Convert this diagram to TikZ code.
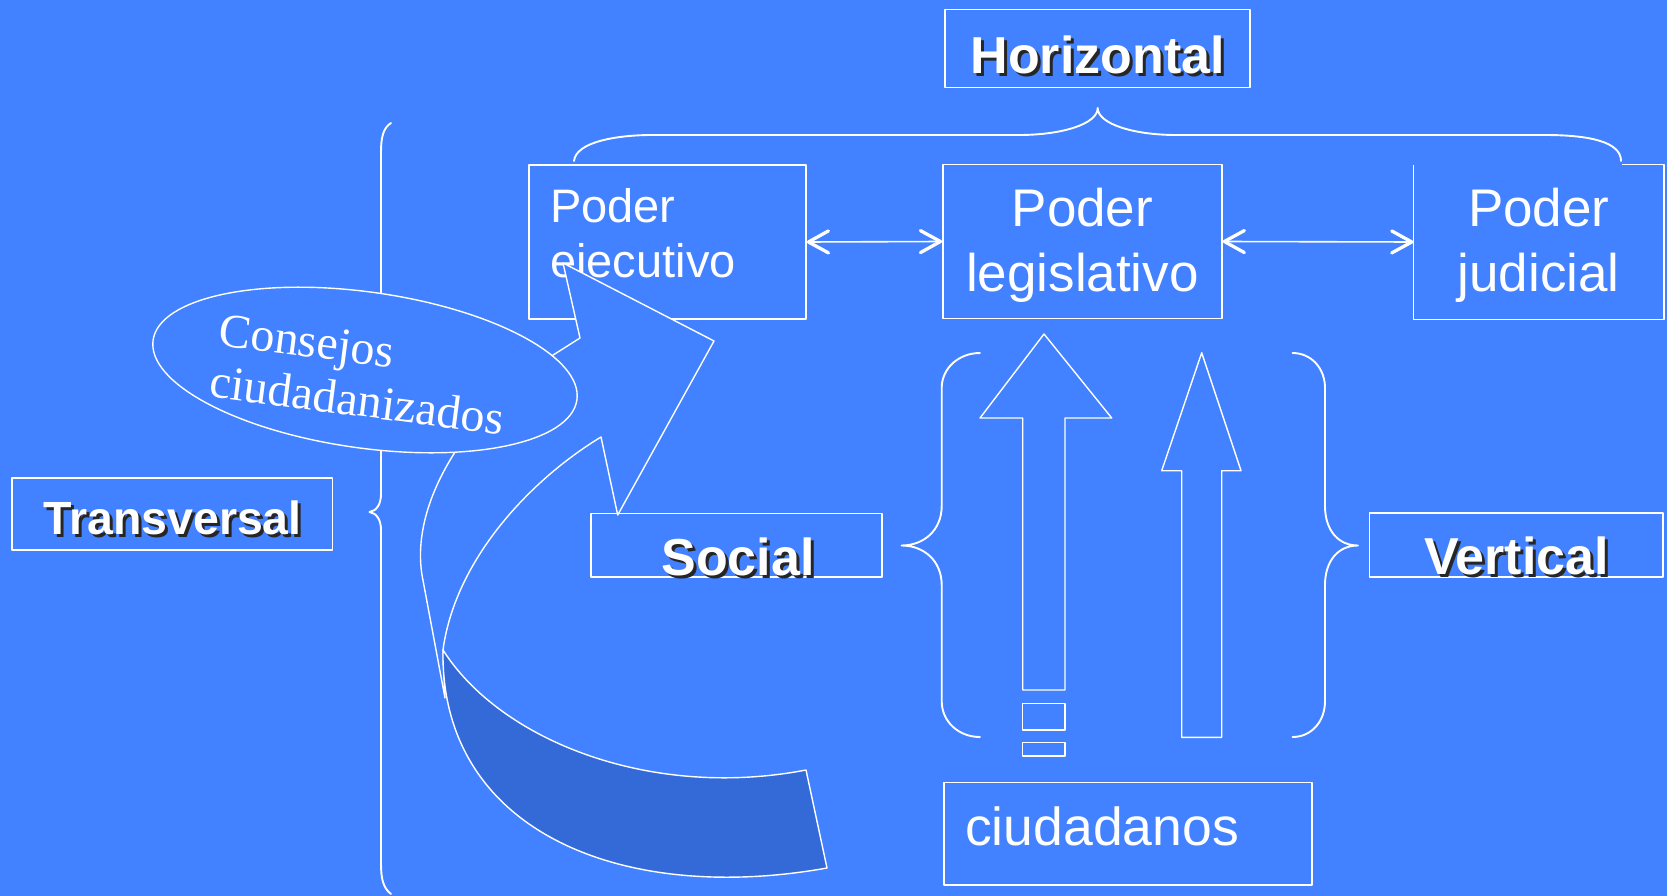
\documentclass[tikz,border=0pt]{standalone}
\usepackage{fontspec}
\setmainfont{Liberation Sans}
\newfontfamily\timesfont{Liberation Serif}
\usepackage{tikz}
\usetikzlibrary{arrows.meta,shapes.geometric,positioning}

\definecolor{slideblue}{RGB}{66,129,255}
\definecolor{ribbonblue}{RGB}{52,106,216}
\newcommand{\shadowed}[1]{\makebox[0pt][l]{\hspace{3pt}\raisebox{-3pt}{\color{black!85}#1}}#1}

\begin{document}
\begin{tikzpicture}[x=1pt,y=-1pt,line join=round,
			box/.style={draw=white,line width=1.6pt,inner sep=0pt},
			title/.style={text=white,inner sep=0pt,anchor=base,font=\bfseries\fontsize{52}{52}\selectfont},
			power/.style={text=white,inner sep=0pt,align=center,font=\fontsize{53}{65}\selectfont},
			council/.style={text=white,inner sep=0pt,anchor=base west,rotate=-7.4,font=\timesfont\fontsize{48}{48}\selectfont},
			brace/.style={draw=white,line width=1.9pt,line cap=round},
			outline/.style={draw=white,line width=1.4pt,fill=slideblue},
			barb/.tip={Straight Barb[length=20pt,width=22pt,line width=3.3pt,round]},
			link/.style={draw=white,line width=1.6pt,barb-barb}]

	\useasboundingbox (0,0) rectangle (1667,896);
	\fill[slideblue] (0,0) rectangle (1667,896);
	\clip (0,0) rectangle (1667,896);

	% llave transversal
	\draw[brace] (391,123) .. controls (383,128) and (381,138) .. (381,152) -- (381,494)
		.. controls (381,505) and (376,511) .. (369.5,512) .. controls (376,513) and (381,519) .. (381,530)
		-- (381,864) .. controls (381,878) and (383,888) .. (391,894);

	% cajas de poderes
	\node[box,minimum width=277pt,minimum height=154pt] (ejecutivo) at (667.5,242) {};
	\node[power,align=left,anchor=west,font=\fontsize{47}{55}\selectfont] (ejecutivotxt) at (550,237.6) {Poder\\ejecutivo};
	\node[box,minimum width=279pt,minimum height=154pt] (legislativo) at (1082.4,241.5) {};
	\node[power] (legislativotxt) at (1082.4,245) {Poder\\legislativo};
	\node[box,draw=none,minimum width=249pt,minimum height=153pt] (judicial) at (1538.7,242) {};
	\draw[white,line width=1.6pt] (judicial.north west) -- (judicial.south west) -- (judicial.south east) -- (judicial.north east) -- ++(-42,0);
	\node[power] (judicialtxt) at (1538.7,245) {Poder\\judicial};

	\draw[link] (ejecutivo.east) -- (legislativo.west);
	\draw[link] (legislativo.east) -- (judicial.west);

	% llave horizontal
	\draw[brace] (574,161) .. controls (576,141) and (620,135) .. (652,135) -- (1019,135)
		.. controls (1062,135) and (1097.7,124) .. (1097.7,108) .. controls (1097.7,124) and (1134,135) .. (1176,135)
		-- (1545,135) .. controls (1590,135) and (1621,142) .. (1621,161);
	\node[box,minimum width=305pt,minimum height=78pt] (horizontal) at (1097.7,48.5) {};
	\node[title] (horizontaltxt) at (1097.7,74) {\shadowed{Horizontal}};

	% flecha curva
	\filldraw[outline] (445,698) -- (422,575) .. controls (410,500) and (470,410) .. (550,357) -- (580,338)
		-- (563,263) -- (714,341) -- (617.7,515) -- (601,437) .. controls (530,480) and (455,560) .. (443,650) -- cycle;
	\filldraw[draw=white,line width=1.4pt,fill=ribbonblue] (443,650) .. controls (500,740) and (650,800) .. (806,770)
		-- (827,868) .. controls (620,905) and (440,830) .. (443,650) -- cycle;

	% consejos
	\node[ellipse,outline,minimum width=428pt,minimum height=156pt,inner sep=0pt,rotate=-8] (consejos) at (365,370) {};
	\node[council] (consejostxt) at (217.3,345) {Consejos};
	\node[council] (ciudadanizadostxt) at (208.3,396.7) {ciudadanizados};

	\node[box,minimum width=320.6pt,minimum height=72.3pt] (transversal) at (172,513.9) {};
	\node[title,font=\bfseries\fontsize{46.5}{46.5}\selectfont] (transversaltxt) at (172.5,534.3) {\shadowed{Transversal}};
	\node[box,minimum width=291pt,minimum height=63.5pt] (social) at (736.5,545.3) {};
	\node[title] (socialtxt) at (738,575) {\shadowed{Social}};
	\node[box,minimum width=293.5pt,minimum height=64pt] (vertical) at (1516.3,545) {};
	\node[title] (verticaltxt) at (1516.5,574.5) {\shadowed{Vertical}};

	% llaves verticales
	\draw[brace] (980,353) .. controls (959,353) and (941.7,368) .. (941.7,388) -- (941.7,506)
		.. controls (941.7,530) and (924,545.5) .. (901.5,545.5) .. controls (924,545.5) and (941.7,561) .. (941.7,585)
		-- (941.7,701) .. controls (941.7,722) and (959,737) .. (980,737);
	\draw[brace] (1292.5,353) .. controls (1311,353) and (1325,368) .. (1325,388) -- (1325,506)
		.. controls (1325,530) and (1338,545.5) .. (1358,545.5) .. controls (1338,545.5) and (1325,561) .. (1325,585)
		-- (1325,701) .. controls (1325,722) and (1311,737) .. (1292.5,737);

	% flechas de los ciudadanos
	\draw[outline] (1044,334) -- (1111.7,418) -- (1065,418) -- (1065,690) -- (1022.7,690) -- (1022.7,418) -- (980,418) -- cycle;
	\draw[outline] (1022.7,703.3) rectangle (1065,730);
	\draw[outline] (1022.7,742.7) rectangle (1065,756);
	\draw[outline] (1201.7,352.7) -- (1241,470.7) -- (1221.7,470.7) -- (1221.7,737.3) -- (1181.7,737.3) -- (1181.7,470.7) -- (1161.7,470.7) -- cycle;

	\node[box,minimum width=368.3pt,minimum height=102.3pt] (ciudadanos) at (1128.1,833.8) {};
	\node[text=white,inner sep=0pt,anchor=base west,font=\fontsize{53.5}{53.5}\selectfont] (ciudadanostxt) at (965,845) {ciudadanos};
\end{tikzpicture}
\end{document}
